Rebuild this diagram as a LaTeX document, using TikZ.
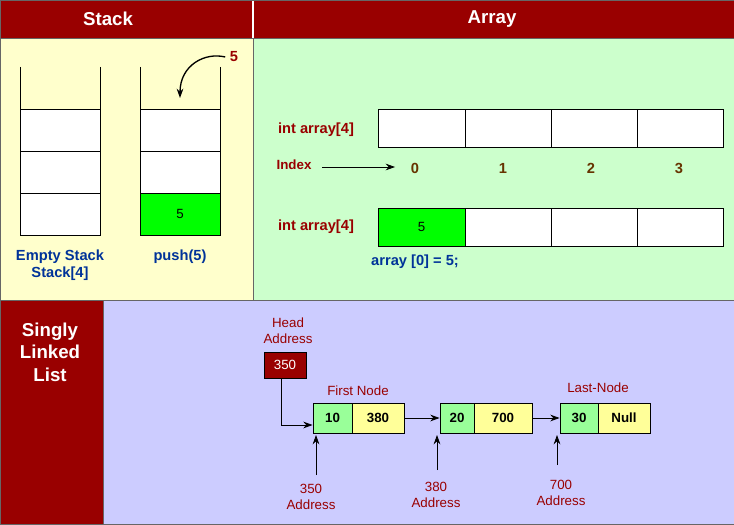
\documentclass[tikz,border=0pt]{standalone}
\usepackage{fontspec}
\setmainfont{Liberation Sans}
\usetikzlibrary{arrows.meta}
\definecolor{dred}{HTML}{990000}
\definecolor{ylw}{HTML}{FFFFCC}
\definecolor{lgrn}{HTML}{CCFFCC}
\definecolor{lav}{HTML}{CCCCFF}
\definecolor{cgrn}{HTML}{00FF00}
\definecolor{ngrn}{HTML}{99FF99}
\definecolor{nylw}{HTML}{FFFF99}
\definecolor{dblue}{HTML}{003399}
\definecolor{brn}{HTML}{663300}
\tikzset{
 panel/.style={draw=black!60,line width=0.6pt},
 hdr/.style={text=white,font=\bfseries\fontsize{14}{16}\selectfont},
 cell/.style={draw,fill=white,line width=0.6pt},
 lbl/.style={font=\bfseries\fontsize{11}{13}\selectfont},
 small/.style={font=\fontsize{10}{12}\selectfont},
 arr/.style={-{Stealth[length=7pt,width=5pt]},line width=0.6pt},
}
\begin{document}
\begin{tikzpicture}[x=0.75pt,y=-0.75pt]
\useasboundingbox (0,0) rectangle (734,524);
% panels
\fill[dred] (0,0) rectangle (734,38);
\draw[white,line width=1pt] (253,0)--(253,38);
\fill[ylw] (0,38) rectangle (253,300);
\fill[lgrn] (253,38) rectangle (734,300);
\fill[dred] (0,300) rectangle (103,524);
\fill[lav] (103,300) rectangle (734,524);
\draw[black!60,line width=0.6pt] (0,38)--(734,38) (253,38)--(253,300) (0,300)--(734,300) (103,300)--(103,524) (0,0) rectangle (734,524);
\node[hdr] (hs) at (108,19) {Stack};
\node[hdr] (ha) at (492,19) {Array};
\node[hdr,align=center,font=\bfseries\fontsize{14}{17}\selectfont] (hl) at (50,352) {Singly\\Linked\\List};
% stacks
\foreach \x/\n in {20/a,140/b}{
 \draw[line width=0.6pt] (\x,67)--(\x,235) (\x+80,67)--(\x+80,235);
 \draw[cell] (\x,109) rectangle (\x+80,151);
 \draw[cell] (\x,151) rectangle (\x+80,193);
 \draw[cell] (\x,193) rectangle (\x+80,235);
}
\node[cell,fill=cgrn,minimum width=60pt,minimum height=31.5pt,small] (s5) at (180,214) {5};
\node[text=dred,lbl] (five) at (234,57) {5};
\coordinate (ptop) at (180,98);
\draw[arr,line width=1pt] (five.west) .. controls (205,52) and (180,65) .. (ptop);
\node[text=dblue,lbl,align=center] (es) at (60,265) {Empty Stack\\Stack[4]};
\node[text=dblue,lbl] (ps) at (180,257) {push(5)};
% array
\foreach \y in {109,208}{
 \foreach \x/\w in {378/87,465/86,551/86,637/86}{
  \draw[cell] (\x,\y) rectangle (\x+\w,\y+38);
 }
}
\node[cell,fill=cgrn,minimum width=65.25pt,minimum height=28.5pt,small] (a5) at (421.5,227) {5};
\node[text=dred,lbl] (ia1) at (316,130) {int array[4]};
\node[text=dred,lbl] (ia2) at (316,227) {int array[4]};
\node[text=dred,lbl,font=\bfseries\fontsize{10}{12}\selectfont] (idx) at (294,165) {Index};
\foreach \x/\i in {415/0,503/1,591/2,679/3}{
 \node[text=brn,lbl] (i\i) at (\x,168) {\i};
}
\draw[arr] (idx.east)++(6,2) -- (395,167);
\node[text=dblue,lbl] (asg) at (415,262) {array [0] = 5;};
% linked list
\node[text=dred,small,align=center] (ha) at (288,331) {Head\\Address};
\node[draw,fill=dred,text=white,minimum width=31.5pt,minimum height=19.5pt,small] (h350) at (285,365) {350};
\tikzset{nd/.style={draw,line width=0.6pt,minimum height=22.5pt,inner sep=0pt,font=\bfseries\fontsize{10}{12}\selectfont}}
\node[nd,fill=ngrn,minimum width=29.25pt] (n1a) at (332.5,418) {10};
\node[nd,fill=nylw,minimum width=39pt] (n1b) at (378,418) {380};
\node[nd,fill=ngrn,minimum width=25.5pt] (n2a) at (457,418) {20};
\node[nd,fill=nylw,minimum width=43.5pt] (n2b) at (503,418) {700};
\node[nd,fill=ngrn,minimum width=28.5pt] (n3a) at (579,418) {30};
\node[nd,fill=nylw,minimum width=39pt] (n3b) at (624,418) {Null};
\draw[arr] (n1b.east)--(n2a.west);
\draw[arr] (n2b.east)--(n3a.west);
\coordinate (hb) at (281,378);
\draw[arr] (hb) |- (n1a.west|-0,425);
\node[text=dred,small] (fn) at (358,391) {First Node};
\node[text=dred,small] (ln) at (598,388) {Last-Node};
\node[text=dred,small,align=center] (ad1) at (311,497) {350\\Address};
\node[text=dred,small,align=center] (ad2) at (436,495) {380\\Address};
\node[text=dred,small,align=center] (ad3) at (561,493) {700\\Address};
\coordinate (p1) at (316,475); \coordinate (q1) at (316,435);
\coordinate (p2) at (437,470); \coordinate (q2) at (437,435);
\coordinate (p3) at (557,465); \coordinate (q3) at (557,435);
\draw[arr] (p1)--(q1); \draw[arr] (p2)--(q2); \draw[arr] (p3)--(q3);
\end{tikzpicture}
\end{document}
